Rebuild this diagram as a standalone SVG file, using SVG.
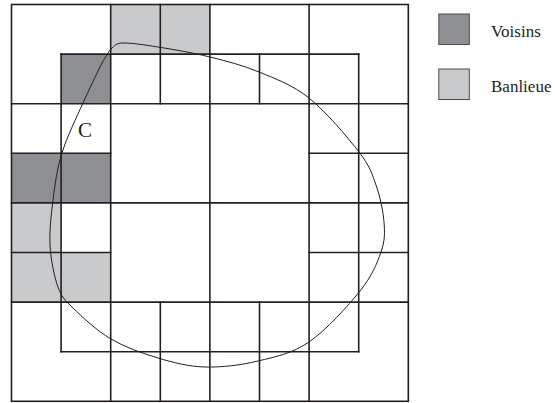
<svg xmlns="http://www.w3.org/2000/svg" width="555" height="403" viewBox="0 0 555 403">
  <style>
    .dark { fill: #8e8f92; }
    .light { fill: #c9cacc; }
    .grid { stroke: #231f20; stroke-width: 1.6; fill: none; stroke-linecap: square; }
    .curve { stroke: #231f20; stroke-width: 1; fill: none; }
    .legbox { stroke: #4a4a4c; stroke-width: 1; }
    .lbl { font-family: "Liberation Serif", "Times New Roman", serif; fill: #231f20; }
  </style>
  <rect width="555" height="403" fill="#ffffff"/>
  <g id="cells">
    <rect class="light" x="110.7" y="4.5" width="99.2" height="49.6"/>
    <rect class="dark" x="61.1" y="54.1" width="49.6" height="49.6"/>
    <rect class="dark" x="11.5" y="153.3" width="99.2" height="49.6"/>
    <rect class="light" x="11.5" y="202.9" width="49.6" height="99.2"/>
    <rect class="light" x="61.1" y="252.5" width="49.6" height="49.6"/>
  </g>
  <g id="grid" class="grid">
    <rect x="11.5" y="4.5" width="396.8" height="396.8"/>
    <line x1="110.7" y1="4.5" x2="110.7" y2="401.3"/>
    <line x1="209.9" y1="4.5" x2="209.9" y2="401.3"/>
    <line x1="309.1" y1="4.5" x2="309.1" y2="401.3"/>
    <line x1="61.1" y1="54.1" x2="61.1" y2="351.7"/>
    <line x1="358.7" y1="54.1" x2="358.7" y2="351.7"/>
    <line x1="160.3" y1="4.5" x2="160.3" y2="103.7"/>
    <line x1="160.3" y1="302.1" x2="160.3" y2="401.3"/>
    <line x1="259.5" y1="54.1" x2="259.5" y2="103.7"/>
    <line x1="259.5" y1="302.1" x2="259.5" y2="401.3"/>
    <line x1="11.5" y1="103.7" x2="408.3" y2="103.7"/>
    <line x1="11.5" y1="202.9" x2="408.3" y2="202.9"/>
    <line x1="11.5" y1="302.1" x2="408.3" y2="302.1"/>
    <line x1="61.1" y1="54.1" x2="358.7" y2="54.1"/>
    <line x1="61.1" y1="351.7" x2="358.7" y2="351.7"/>
    <line x1="11.5" y1="153.3" x2="110.7" y2="153.3"/>
    <line x1="309.1" y1="153.3" x2="408.3" y2="153.3"/>
    <line x1="11.5" y1="252.5" x2="110.7" y2="252.5"/>
    <line x1="309.1" y1="252.5" x2="408.3" y2="252.5"/>
  </g>
  <g id="curve-C">
    <path class="curve" d="M123,43 C130.67,42.83 143.5,44.67 158,47 C172.5,49.33 193.17,52.83 210,57 C226.83,61.17 242.5,65.17 259,72 C275.5,78.83 292.33,84.67 309,98 C325.67,111.33 347.83,137.5 359,152 C370.17,166.5 371.83,173.33 376,185 C380.17,196.67 383.17,210.83 384,222 C384.83,233.17 385,240.5 381,252 C377,263.5 372,276 360,291 C348,306 326,330.33 309,342 C292,353.67 275.33,356.83 258,361 C240.67,365.17 221.67,367.5 205,367 C188.33,366.5 173.67,362.67 158,358 C142.33,353.33 125.17,347.33 111,339 C96.83,330.67 81.83,316.67 73,308 C64.17,299.33 61.83,297.5 58,287 C54.17,276.5 50.83,259.5 50,245 C49.17,230.5 51.17,215.33 53,200 C54.83,184.67 57,169.17 62,153 C67,136.83 76.5,117.33 83,103 C89.5,88.67 96,75 100,67 C104,59 105,58.17 107,55 C109,51.83 109.33,50 112,48 C114.67,46 115.33,43.17 123,43 Z"/>
    <text class="lbl" x="78" y="137" font-size="21">C</text>
  </g>
  <g id="legend-voisins">
    <rect class="dark legbox" x="438.8" y="14" width="30.5" height="30.5"/>
    <text class="lbl" x="491" y="36.5" font-size="17">Voisins</text>
  </g>
  <g id="legend-banlieue">
    <rect class="light legbox" x="438.8" y="69" width="30.5" height="30.5"/>
    <text class="lbl" x="491" y="91.5" font-size="17">Banlieue</text>
  </g>
</svg>
